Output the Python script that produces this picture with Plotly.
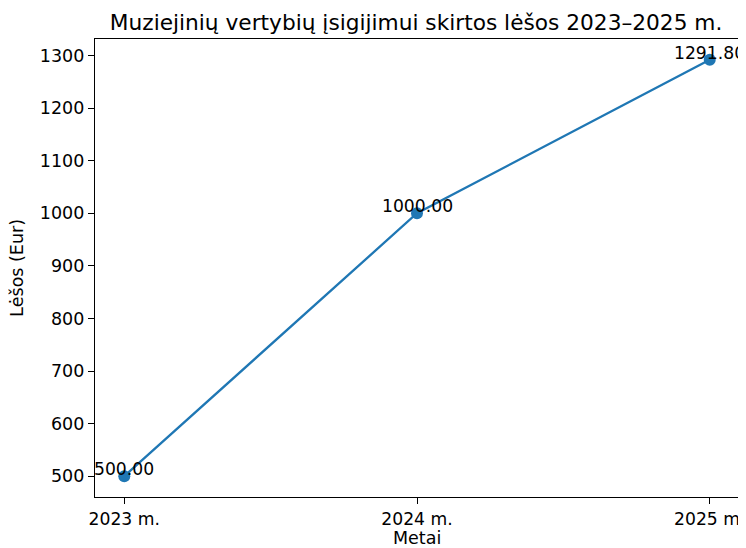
import plotly.graph_objects as go

# Duomenys
metai = ["2023 m.", "2024 m.", "2025 m."]
lesos = [500.00, 1000.00, 1291.80]
y_ticks = [500, 600, 700, 800, 900, 1000, 1100, 1200, 1300]

BLUE = "#1f77b4"
FONT = "DejaVu Sans"

x_pos = list(range(len(metai)))

fig = go.Figure()
fig.add_trace(go.Scatter(
    x=x_pos,
    y=lesos,
    mode="lines+markers",
    line=dict(color=BLUE, width=2.3),
    marker=dict(color=BLUE, size=12),
    showlegend=False,
    hoverinfo="skip",
    cliponaxis=False,
))

# reikšmių etiketės virš taškų
for xi, v in zip(x_pos, lesos):
    fig.add_annotation(
        x=xi, y=v, text=f"{v:.2f}",
        showarrow=False, xanchor="center", yanchor="bottom",
        yshift=-5, font=dict(family=FONT, size=17.2, color="#000000"),
    )

# ašių pavadinimai kaip anotacijos (tikslesnė padėtis)
fig.add_annotation(
    text="Metai", xref="paper", yref="paper", x=0.5, y=0,
    xanchor="center", yanchor="middle", yshift=-41, showarrow=False,
    font=dict(family=FONT, size=17.5, color="#000000"),
)
fig.add_annotation(
    text="Lėšos (Eur)", xref="paper", yref="paper", x=0, y=0.5,
    xanchor="center", yanchor="middle", xshift=-78, textangle=-90,
    showarrow=False, font=dict(family=FONT, size=17.5, color="#000000"),
)

span = max(lesos) - min(lesos)
# puslapio body turi 8px paraštę, todėl figūra 8px mažesnė
fig.update_layout(
    width=738, height=540,
    paper_bgcolor="white", plot_bgcolor="white",
    font=dict(family=FONT, size=17.5, color="#000000"),
    title=dict(
        text="Muziejinių vertybių įsigijimui skirtos lėšos 2023–2025 m.",
        x=0.553, xanchor="center", y=0.974, yanchor="middle",
        font=dict(size=21.7),
    ),
    margin=dict(l=87, r=7, t=31, b=51),
    xaxis=dict(
        tickvals=x_pos, ticktext=metai,
        range=[-0.1, len(metai) - 0.9],
        automargin=False, ticklabeloverflow="allow",
        showgrid=False, zeroline=False,
        showline=True, linecolor="#000000", linewidth=1.2, mirror=True,
        ticks="outside", ticklen=6, tickcolor="#000000", tickwidth=1.2,
        tickfont=dict(size=17.2),
    ),
    yaxis=dict(
        tickvals=y_ticks,
        range=[min(lesos) - 0.05 * span, max(lesos) + 0.05 * span],
        automargin=False,
        showgrid=False, zeroline=False,
        showline=True, linecolor="#000000", linewidth=1.2, mirror=True,
        ticks="outside", ticklen=6, tickcolor="#000000", tickwidth=1.2,
        tickfont=dict(size=17.5),
    ),
)

fig.write_html("out.html")
